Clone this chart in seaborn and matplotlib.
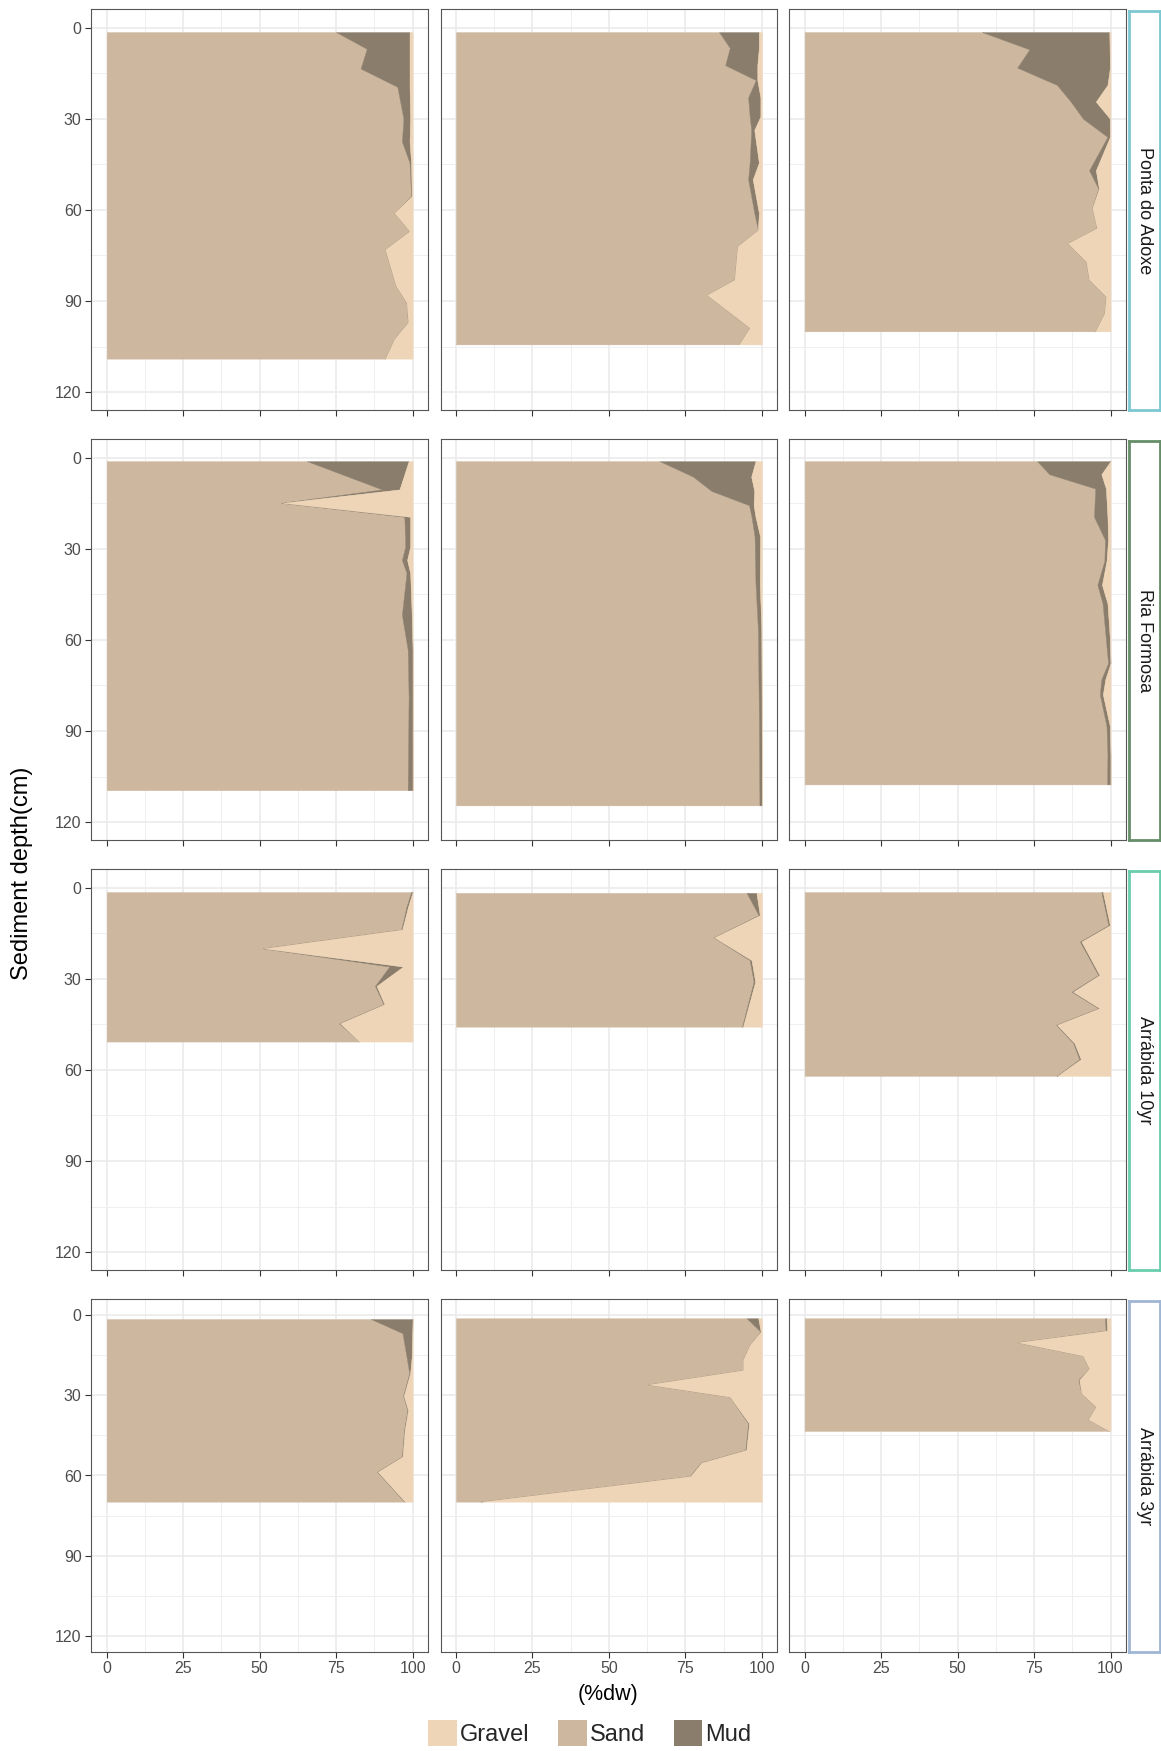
import pandas as pd
import seaborn as sns
import matplotlib.pyplot as plt
from matplotlib.patches import Patch

# sites (rows) and grain size fractions
sites = ['Ponta do Adoxe', 'Ria Formosa', 'Arrábida 10yr', 'Arrábida 3yr']
strip_colors = ['#7CC8D3', '#668E68', '#6ACDAE', '#9FB6D4']
fractions = ['Gravel', 'Sand', 'Mud']
frac_colors = ['#EED5B7', '#CDB79E', '#8B7D6B']

# 3 cores per site: depth (cm) and %dw of each fraction
adoxe_depth = [
    [1.5, 7, 13.5, 19.5, 30, 37.5, 44.5, 55.5, 61, 67, 73, 85, 90.5, 97, 102.5, 109],
    [1.5, 6.7, 12.4, 17.3, 23, 29.3, 33.7, 44.5, 50, 61, 66.6, 72, 83, 88, 98.8, 104.3],
    [1.5, 7.2, 13.2, 18.9, 24.4, 30, 36, 47, 53, 59.4, 66, 71, 77, 83, 88.5, 94, 100],
]
adoxe_sand = [
    [75, 85, 83, 95, 97, 96.5, 99, 99.5, 94, 99, 91, 94.5, 98, 98.5, 94, 91],
    [86, 89.5, 88, 98, 95.5, 96, 96.5, 96, 95.5, 97.5, 98.7, 92, 91, 82, 96, 92.5],
    [58, 73.5, 69.5, 82.5, 87, 91, 99, 93, 96, 94, 95.5, 86, 92, 93, 98.5, 98, 95],
]
adoxe_mud = [
    [24, 14, 16, 4, 2.2, 2.5, 0.5, 0.2, 0, 0, 0, 0, 0, 0, 0, 0],
    [13, 9.5, 10.5, 0.5, 4, 3.5, 1, 3, 1.5, 1.5, 0, 0, 0, 0, 0, 0],
    [41.6, 26.2, 30.3, 16.5, 8.2, 8.8, 0.8, 2.2, 0.2, 0, 0, 0, 0, 0, 0, 0, 0],
]
adoxe_gravel = [
    [1, 1, 1, 1, 0.8, 1, 0.5, 0.3, 6, 1, 9, 5.5, 2, 1.5, 6, 9],
    [1, 1, 1.5, 1.5, 0.5, 0.5, 2.5, 1, 3, 1, 1.3, 8, 9, 18, 4, 7.5],
    [0.4, 0.3, 0.2, 1, 4.8, 0.2, 0.2, 4.8, 3.8, 6, 4.5, 14, 8, 7, 1.5, 2, 5],
]

ria_depth = [
    [1.2, 10.5, 14.9, 19.5, 29.3, 33.7, 38, 51.8, 63.3, 78.6, 109.5],
    [1.2, 6.3, 11, 15.7, 19.5, 26, 41.4, 56.7, 85, 114.5],
    [1.2, 5.5, 10.2, 19.5, 27.1, 34, 41.9, 48, 60, 67.7, 73, 78, 88.5, 98, 107.6],
]
ria_sand = [
    [65.5, 90, 57, 97.3, 97.6, 96.5, 98, 96.5, 98.4, 98.7, 98.4],
    [66.6, 77.5, 83.5, 95.8, 96.6, 97.6, 97.9, 98.7, 99, 99.2],
    [76, 80, 95, 94.6, 98.2, 98, 95.7, 97.4, 98.5, 99.2, 97, 96.5, 98.7, 99, 98.9],
]
ria_mud = [
    [33.2, 5.7, 0.5, 1.9, 1.6, 1.7, 1.2, 3.2, 1.6, 1.3, 1.6],
    [31.3, 19, 14, 1.5, 1.3, 1.8, 1.4, 1.1, 0.9, 0.8],
    [24, 17, 3.5, 4.4, 1, 0.7, 1.5, 1.6, 1.3, 0.8, 1.3, 1, 1.1, 1, 1.1],
]
ria_gravel = [
    [1.3, 4.3, 42.5, 0.8, 0.8, 1.8, 0.8, 0.3, 0, 0, 0],
    [2.1, 3.5, 2.5, 2.7, 2.1, 0.6, 0.7, 0.2, 0.1, 0],
    [0, 3, 1.5, 1, 0.8, 1.3, 2.8, 1, 0.2, 0, 1.7, 2.5, 0.2, 0, 0],
]

arr10_depth = [
    [1.5, 6.3, 13.8, 20, 26, 32.4, 38.4, 44.7, 50.7],
    [1.75, 9.1, 16.4, 23.9, 31, 45.8],
    [1.5, 12.4, 17.8, 28.8, 34.3, 39.7, 45.2, 51.2, 56.5, 62],
]
arr10_sand = [
    [99.5, 98, 96.3, 51, 92.4, 87.7, 90.5, 76, 82.6],
    [95, 98.9, 84.2, 96, 97.3, 93.5],
    [97, 99.3, 90, 96, 87.3, 96, 82.2, 87.8, 89.8, 82.4],
]
arr10_mud = [
    [0.5, 0.5, 0.3, 0.3, 4.5, 0.5, 0.3, 0.3, 0],
    [3.2, 0.4, 0.2, 0.6, 0.5, 0.3],
    [0.5, 0.5, 0.5, 0.4, 0.5, 0.4, 0.3, 0.4, 0.5, 0.2],
]
arr10_gravel = [
    [0, 1.5, 3.4, 48.7, 3.1, 11.8, 9.2, 23.7, 17.4],
    [1.8, 0.7, 15.6, 3.4, 2.2, 6.2],
    [2.5, 0.2, 9.5, 3.6, 12.2, 3.6, 17.5, 11.8, 9.7, 17.4],
]

arr3_depth = [
    [1.4, 6.7, 15.5, 21.7, 30.2, 35.5, 43, 52.9, 58.6, 69.8],
    [1.1, 6.1, 11.1, 16.7, 20.5, 25.9, 30.5, 40.5, 50.4, 55.2, 60.2, 69.8],
    [1.1, 5.7, 10.1, 15.1, 19.9, 24.2, 29.2, 34.2, 39, 43.3],
]
arr3_sand = [
    [86.4, 96.7, 98, 98.9, 96.9, 98.3, 97.2, 96.5, 88.4, 97.3],
    [95, 99.5, 96, 93.8, 93.8, 62.8, 89.5, 95.5, 94.6, 80, 76.5, 8],
    [98.2, 98.4, 69.6, 90.9, 93, 89.5, 90.5, 95.2, 92.7, 99.5],
]
arr3_mud = [
    [13.6, 3.2, 1.7, 0.3, 0.2, 0.2, 0.2, 0.2, 0.2, 0.2],
    [3.8, 0.1, 0, 0, 0, 0, 0, 0.3, 0.3, 0.2, 0.2, 0],
    [0.5, 0.5, 0, 0, 0, 0.3, 0, 0, 0, 0],
]
arr3_gravel = [
    [0, 0.1, 0.3, 0.8, 2.9, 1.5, 2.6, 3.3, 11.4, 2.5],
    [1.2, 0.4, 4, 6.2, 6.2, 37.2, 10.5, 4.2, 5.1, 19.8, 23.3, 92],
    [1.3, 1.1, 30.4, 9.1, 7, 10.2, 9.5, 4.8, 7.3, 0.5],
]

x_ticks = [0, 25, 50, 75, 100]
y_ticks = [0, 30, 60, 90, 120]

# tabela w formacie dlugim
all_depth = [adoxe_depth, ria_depth, arr10_depth, arr3_depth]
all_sand = [adoxe_sand, ria_sand, arr10_sand, arr3_sand]
all_mud = [adoxe_mud, ria_mud, arr10_mud, arr3_mud]
all_gravel = [adoxe_gravel, ria_gravel, arr10_gravel, arr3_gravel]

rows = []
for i, site in enumerate(sites):
    for j in range(3):
        for d, s, m, g in zip(all_depth[i][j], all_sand[i][j], all_mud[i][j], all_gravel[i][j]):
            rows.append({'site': site, 'core': j, 'depth': d, 'Sand': s, 'Mud': m, 'Gravel': g})
df = pd.DataFrame(rows)

sns.set_theme(style='white')
plt.rcParams['font.family'] = ['Liberation Sans', 'DejaVu Sans']

W, H = 1161, 1751
fig = plt.figure(figsize=(W / 100, H / 100), dpi=100)


def box(x0, y0, w, h):
    return [x0 / W, 1 - (y0 + h) / H, w / W, h / H]


col_left = [91.4, 440.7, 789.3]
panel_w = 336.5
row_top = [9.3, 439.3, 869.3, 1299.3]
row_h = [401, 401, 401, 352.4]
pal = dict(zip(fractions, frac_colors))

for i, site in enumerate(sites):
    for j in range(3):
        ax = fig.add_axes(box(col_left[j], row_top[i], panel_w, row_h[i]))
        sub = df[(df.site == site) & (df.core == j)]
        left = sub['Sand'] * 0
        # kolejnosc: piasek, mul, zwir
        for frac in ['Sand', 'Mud', 'Gravel']:
            right = left + sub[frac]
            ax.fill_betweenx(sub['depth'], left, right, color=pal[frac], lw=0.3, ec=pal[frac], zorder=2)
            left = right
        ax.set_xlim(-5, 105)
        ax.set_ylim(126, -6)
        ax.set_xticks(x_ticks)
        ax.set_xticks([12.5, 37.5, 62.5, 87.5], minor=True)
        ax.set_yticks(y_ticks)
        ax.set_yticks([15, 45, 75, 105], minor=True)
        ax.grid(which='major', color='#EBEBEB', lw=1.2)
        ax.grid(which='minor', color='#EFEFEF', lw=0.7)
        ax.set_axisbelow(True)
        ax.tick_params(which='major', direction='out', length=4, width=0.8, color='#333333',
                       labelsize=11.5, labelcolor='#4D4D4D', pad=3, bottom=True, left=(j == 0))
        ax.tick_params(which='minor', length=0)
        if i < 3:
            ax.tick_params(labelbottom=False)
        if j > 0:
            ax.tick_params(labelleft=False)
        for sp in ax.spines.values():
            sp.set_color('#555555')
            sp.set_linewidth(0.8)
        ax.set_xlabel('')
        ax.set_ylabel('')

    # pasek z nazwa stanowiska
    sax = fig.add_axes(box(1128.5, row_top[i] + 1.5, 31, row_h[i] - 1.5))
    sax.set_xticks([])
    sax.set_yticks([])
    sax.set_facecolor('white')
    for sp in sax.spines.values():
        sp.set_color(strip_colors[i])
        sp.set_linewidth(2.0)
    sax.text(0.5, 0.5, site, rotation=270, ha='center', va='center', fontsize=13,
             color='#1A1A1A', transform=sax.transAxes)

fig.text(22 / W, 1 - 873 / H, 'Sediment depth(cm)', rotation=90, ha='center', va='center',
         fontsize=17, color='black')
fig.text(608 / W, 1 - 1694 / H, '(%dw)', ha='center', va='center', fontsize=15.5, color='black')

handles = [Patch(facecolor=c, edgecolor='none', label=f) for f, c in zip(fractions, frac_colors)]
fig.legend(handles=handles, loc='center', bbox_to_anchor=(590 / W, 1 - 1733 / H), ncol=3,
           frameon=False, fontsize=17, handlelength=1.2, handleheight=1.3,
           handletextpad=0.15, columnspacing=1.2, borderpad=0)

plt.savefig('out.png', dpi=100, facecolor='white')
